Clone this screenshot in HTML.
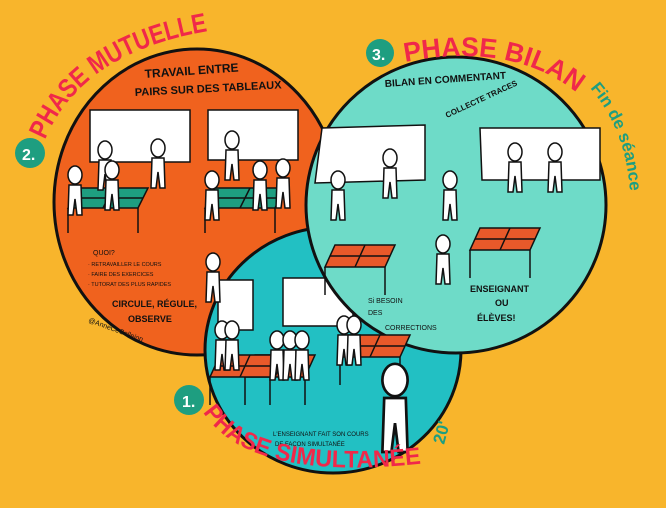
<!DOCTYPE html>
<html><head><meta charset="utf-8"><style>
html,body{margin:0;padding:0;background:#F8B52C;}
svg{display:block}
text{font-family:"Liberation Sans",sans-serif;}
</style></head><body>
<svg width="666" height="508" viewBox="0 0 666 508" xmlns="http://www.w3.org/2000/svg">
<rect width="666" height="508" fill="#F8B52C"/>
<defs>
<path id="pm" d="M45,140 Q85,45 230,28"/>
<path id="pb" d="M405,62 Q520,40 585,100"/>
<path id="ps" d="M203,412 Q250,485 435,462"/>
<path id="fs" d="M590,88 Q635,140 630,225"/>
<g id="fig"><ellipse cx="0" cy="0" rx="7" ry="9" fill="#fff" stroke="#111" stroke-width="1.5"/><path d="M-6,10 L-7,40 L-2,40 L0,24 L2,40 L7,40 L6,10 Z" fill="#fff" stroke="#111" stroke-width="1.5"/></g>
<g id="tblg"><path d="M0,0 L70,0 L60,20 L-10,20 Z" fill="#1E9E80" stroke="#111" stroke-width="1.5"/><path d="M35,0 L25,20 M-5,10 L65,10 M-10,20 L-10,45 M60,20 L60,45" stroke="#111" stroke-width="1.5"/></g>
<g id="tblo"><path d="M10,0 L70,0 L60,22 L0,22 Z" fill="#E8592A" stroke="#111" stroke-width="1.5"/><path d="M40,0 L30,22 M5,11 L65,11 M0,22 L0,50 M60,22 L60,50" stroke="#111" stroke-width="1.5"/></g>
</defs>
<ellipse cx="197" cy="202" rx="143" ry="153" fill="#F0621E" stroke="#111" stroke-width="3"/>
<ellipse cx="333" cy="350" rx="128" ry="123" fill="#22C0C3" stroke="#111" stroke-width="3"/>
<rect x="218" y="280" width="35" height="50" fill="#fff" stroke="#111" stroke-width="1.5"/>
<rect x="283" y="278" width="70" height="48" fill="#fff" stroke="#111" stroke-width="1.5"/>
<ellipse cx="456" cy="205" rx="150" ry="148" fill="#6EDBC8" stroke="#111" stroke-width="3"/>
<rect x="90" y="110" width="100" height="52" fill="#fff" stroke="#111" stroke-width="1.5"/>
<rect x="208" y="110" width="90" height="50" fill="#fff" stroke="#111" stroke-width="1.5"/>
<path d="M322,128 L425,125 L425,180 L315,183 Z" fill="#fff" stroke="#111" stroke-width="1.5"/>
<path d="M480,128 L600,128 L600,180 L482,180 Z" fill="#fff" stroke="#111" stroke-width="1.5"/>
<use href="#tblg" x="78" y="188"/>
<use href="#tblg" x="215" y="188"/>
<use href="#tblo" x="325" y="245"/>
<use href="#tblo" x="470" y="228"/>
<use href="#tblo" x="245" y="355"/>
<use href="#tblo" x="340" y="335"/>
<use href="#tblo" x="210" y="355"/>
<use href="#fig" x="75" y="175"/><use href="#fig" x="105" y="150"/><use href="#fig" x="112" y="170"/><use href="#fig" x="158" y="148"/>
<use href="#fig" x="232" y="140"/><use href="#fig" x="212" y="180"/><use href="#fig" x="260" y="170"/><use href="#fig" x="283" y="168"/>
<use href="#fig" x="213" y="262"/>
<use href="#fig" x="338" y="180"/><use href="#fig" x="390" y="158"/><use href="#fig" x="450" y="180"/><use href="#fig" x="443" y="244"/>
<use href="#fig" x="515" y="152"/><use href="#fig" x="555" y="152"/>
<use href="#fig" x="222" y="330"/><use href="#fig" x="232" y="330"/><use href="#fig" x="277" y="340"/><use href="#fig" x="290" y="340"/><use href="#fig" x="302" y="340"/><use href="#fig" x="344" y="325"/><use href="#fig" x="354" y="325"/>
<g transform="translate(395,380) scale(1.8)"><use href="#fig"/></g>
<text x="145" y="78" font-size="12" font-weight="bold" fill="#111" transform="rotate(-4 145 78)">TRAVAIL ENTRE</text>
<text x="135" y="96" font-size="11" font-weight="bold" fill="#111" transform="rotate(-3 135 96)">PAIRS SUR DES TABLEAUX</text>
<text x="385" y="87" font-size="10" font-weight="bold" fill="#111" transform="rotate(-4 385 87)">BILAN EN COMMENTANT</text>
<text x="447" y="118" font-size="8" font-weight="bold" fill="#111" transform="rotate(-25 447 118)">COLLECTE TRACES</text>
<text x="93" y="255" font-size="7" fill="#111">QUOI?</text>
<text x="88" y="266" font-size="5.5" fill="#111">· RETRAVAILLER LE COURS</text>
<text x="88" y="276" font-size="5.5" fill="#111">· FAIRE DES EXERCICES</text>
<text x="88" y="286" font-size="5.5" fill="#111">· TUTORAT DES PLUS RAPIDES</text>
<text x="112" y="307" font-size="9" font-weight="bold" fill="#111">CIRCULE, RÉGULE,</text>
<text x="128" y="322" font-size="9" font-weight="bold" fill="#111">OBSERVE</text>
<text x="88" y="322" font-size="7" fill="#111" transform="rotate(20 88 322)">@AnneCeCollejon</text>
<text x="368" y="303" font-size="7" fill="#111">Si BESOIN</text>
<text x="368" y="315" font-size="7" fill="#111">DES</text>
<text x="385" y="330" font-size="7" fill="#111">CORRECTIONS</text>
<text x="470" y="292" font-size="9" font-weight="bold" fill="#111">ENSEIGNANT</text>
<text x="495" y="306" font-size="9" font-weight="bold" fill="#111">OU</text>
<text x="477" y="321" font-size="9" font-weight="bold" fill="#111">ÉLÈVES!</text>
<text x="273" y="436" font-size="6" fill="#111">L'ENSEIGNANT FAIT SON COURS</text>
<text x="275" y="446" font-size="6" fill="#111">DE FAÇON SIMULTANÉE</text>
<circle cx="30" cy="153" r="15" fill="#1E9E80"/><text x="22" y="160" font-size="16" font-weight="bold" fill="#fff">2.</text>
<circle cx="380" cy="53" r="14" fill="#1E9E80"/><text x="372" y="60" font-size="16" font-weight="bold" fill="#fff">3.</text>
<circle cx="189" cy="400" r="15" fill="#1E9E80"/><text x="182" y="407" font-size="16" font-weight="bold" fill="#fff">1.</text>
<text font-size="27" font-weight="bold" fill="#F0284A"><textPath href="#pm" textLength="205" lengthAdjust="spacingAndGlyphs">PHASE MUTUELLE</textPath></text>
<text font-size="27" font-weight="bold" fill="#F0284A"><textPath href="#pb" textLength="180" lengthAdjust="spacingAndGlyphs">PHASE BILAN</textPath></text>
<text font-size="24" font-weight="bold" fill="#F0284A"><textPath href="#ps" textLength="235" lengthAdjust="spacingAndGlyphs">PHASE SIMULTANÉE</textPath></text>
<text font-size="17" font-weight="bold" fill="#1E9E80"><textPath href="#fs">Fin de séance</textPath></text>
<text x="444" y="445" font-size="17" font-weight="bold" fill="#1E9E80" transform="rotate(-75 444 445)">20'</text>
</svg>
</body></html>
